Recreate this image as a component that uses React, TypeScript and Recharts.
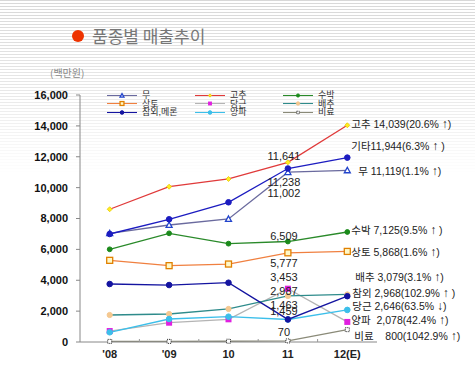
import React from 'react';
import { LineChart, Line, XAxis, YAxis, Legend, LabelList } from 'recharts';

// 연도
const years = ["'08", "'09", '10', '11', '12(E)'];
const yTicks = [0, 2000, 4000, 6000, 8000, 10000, 12000, 14000, 16000];

// 품종별 매출 (백만원)
const mu = [7040, 7580, 7970, 11002, 11119];
const gochu = [8600, 10060, 10560, 11641, 14039];
const subak = [6005, 7040, 6370, 6509, 7125];
const sangto = [5290, 4945, 5050, 5777, 5868];
const dangeun = [710, 1250, 1470, 3453, 1300];
const baechu = [1750, 1815, 2140, 2987, 3079];
const chamoe = [3757, 3690, 3840, 1463, 2968];
const gita = [6996, 7950, 9050, 11238, 11944];
const yangpa = [628, 1490, 1640, 1459, 2078];
const biryo = [40, 40, 50, 70, 800];

// '11 값 라벨
const labels11: Record<string, string> = {
  gochu: '11,641', gita: '11,238', mu: '11,002', subak: '6,509', sangto: '5,777',
  dangeun: '3,453', baechu: '2,987', chamoe: '1,463', yangpa: '1,459', biryo: '70',
};

// 12(E) 라벨
const labels12: Record<string, string> = {
  gochu: '고추 14,039(20.6% ↑)',
  gita: '기타11,944(6.3% ↑ )',
  mu: '무 11,119(1.1% ↑)',
  subak: '수박 7,125(9.5% ↑ )',
  sangto: '상토 5,868(1.6% ↑)',
  baechu: '배추 3,079(3.1% ↑)',
  chamoe: '참외 2,968(102.9% ↑ )',
  dangeun: '당근 2,646(63.5% ↓)',
  yangpa: '양파  2,078(42.4% ↑)',
  biryo: '비료    800(1042.9% ↑)',
};

const data = years.map((year, i) => ({
  year,
  mu: mu[i], gochu: gochu[i], subak: subak[i], sangto: sangto[i], dangeun: dangeun[i],
  baechu: baechu[i], chamoe: chamoe[i], gita: gita[i], yangpa: yangpa[i], biryo: biryo[i],
}));

type Shape = 'triangle' | 'diamond' | 'circle' | 'square' | 'hollowSquare' | 'dotSquare';

interface SeriesStyle {
  key: string;
  name: string;
  line: string;
  shape: Shape;
  fill: string;
  stroke: string;
  size: number;
  legend: boolean;
  // label offsets: '11 (dy), '12 (dx, dy)
  dy11: number;
  dx12: number;
  dy12: number;
}

const series: SeriesStyle[] = [
  { key: 'biryo', name: '비료', line: '#8a8a78', shape: 'dotSquare', fill: '#fff', stroke: '#222', size: 4, legend: true, dy11: -9, dx12: 7, dy12: 6 },
  { key: 'dangeun', name: '당근', line: '#b4b4b4', shape: 'square', fill: '#e020e0', stroke: '#e020e0', size: 6, legend: true, dy11: -12, dx12: 5, dy12: -16 },
  { key: 'baechu', name: '배추', line: '#2e8b8b', shape: 'circle', fill: '#f5c890', stroke: '#f5c890', size: 2.6, legend: true, dy11: -5, dx12: 8, dy12: -17 },
  { key: 'yangpa', name: '양파', line: '#3cbfea', shape: 'circle', fill: '#3cbfea', stroke: '#3cbfea', size: 2.8, legend: true, dy11: -8, dx12: 4, dy12: 10 },
  { key: 'chamoe', name: '참외,메론', line: '#1414a0', shape: 'circle', fill: '#1414a0', stroke: '#1414a0', size: 2.8, legend: true, dy11: -14, dx12: 5, dy12: -3 },
  { key: 'sangto', name: '상토', line: '#f08040', shape: 'hollowSquare', fill: '#fff8c8', stroke: '#e08000', size: 6, legend: true, dy11: 10, dx12: 4, dy12: 1 },
  { key: 'subak', name: '수박', line: '#2a8a2a', shape: 'circle', fill: '#1a8a1a', stroke: '#1a8a1a', size: 2.4, legend: true, dy11: -6, dx12: 4, dy12: -2 },
  { key: 'mu', name: '무', line: '#6a6a9e', shape: 'triangle', fill: '#fff', stroke: '#2244cc', size: 6, legend: true, dy11: 21, dx12: 11, dy12: 1 },
  { key: 'gita', name: '기타', line: '#1c1cc0', shape: 'circle', fill: '#1c1cc0', stroke: '#1c1cc0', size: 2.8, legend: false, dy11: 13, dx12: 4, dy12: -12 },
  { key: 'gochu', name: '고추', line: '#e03a3a', shape: 'diamond', fill: '#ffee22', stroke: '#e8c800', size: 5, legend: true, dy11: -6, dx12: 4, dy12: -1 },
];

const legendOrder = ['mu', 'gochu', 'subak', 'sangto', 'dangeun', 'baechu', 'chamoe', 'yangpa', 'biryo'];

const FONT = '"Liberation Sans", "Noto Sans CJK KR", sans-serif';

const Marker = ({ cx, cy, s, k = 1 }: { cx: number; cy: number; s: SeriesStyle; k?: number }) => {
  const size = s.size * k;
  const h = size / 2;
  switch (s.shape) {
    case 'triangle':
      return <polygon points={`${cx},${cy - h} ${cx + h},${cy + h * 0.8} ${cx - h},${cy + h * 0.8}`} fill={s.fill} stroke={s.stroke} strokeWidth={1.3} />;
    case 'diamond':
      return <polygon points={`${cx},${cy - h} ${cx + h},${cy} ${cx},${cy + h} ${cx - h},${cy}`} fill={s.fill} stroke={s.stroke} strokeWidth={0.8} />;
    case 'circle':
      return <circle cx={cx} cy={cy} r={size} fill={s.fill} stroke={s.stroke} />;
    case 'square':
      return <rect x={cx - h} y={cy - h} width={size} height={size} fill={s.fill} />;
    case 'hollowSquare':
      return <rect x={cx - h} y={cy - h} width={size} height={size} fill={s.fill} stroke={s.stroke} strokeWidth={1.3} />;
    default:
      return <rect x={cx - h} y={cy - h} width={size} height={size} fill={s.fill} stroke={s.stroke} strokeWidth={1} strokeDasharray="1 1" />;
  }
};

const renderLegend = () => (
  <div style={{ display: 'grid', gridTemplateColumns: '88px 88px 90px', fontFamily: FONT, fontSize: 9, color: '#333' }}>
    {legendOrder.map((k) => {
      const s = series.find((e) => e.key === k)!;
      return (
        <div key={k} style={{ display: 'flex', alignItems: 'center', height: 8.5, lineHeight: '8.5px', whiteSpace: 'nowrap' }}>
          <svg width={30} height={7} style={{ overflow: 'visible' }}>
            <line x1={0} y1={3.5} x2={30} y2={3.5} stroke={s.line} strokeWidth={1.1} />
            <Marker cx={15} cy={3.5} s={s} k={0.65} />
          </svg>
          <span style={{ marginLeft: 5 }}>{s.name}</span>
        </div>
      );
    })}
  </div>
);

const XTick = (props: any) => {
  const { x, y, payload, index } = props;
  const axisY = y - 8;
  return (
    <g>
      {index < years.length - 1 && (
        <line x1={x + 29.7} y1={axisY - 3} x2={x + 29.7} y2={axisY} stroke="#999" />
      )}
      <text x={x} y={y} dy="0.71em" textAnchor="middle" fontFamily={FONT} fontSize={11} fontWeight="bold" fill="#222">
        {payload.value}
      </text>
    </g>
  );
};

const makeLabel = (s: SeriesStyle) => (props: any) => {
  const { x, y, index } = props;
  if (index === 3 && labels11[s.key]) {
    return (
      <text key={`l11-${s.key}`} x={x - 4} y={y + s.dy11} textAnchor="middle" dominantBaseline="central" fontFamily={FONT} fontSize={11} fill="#222">
        {labels11[s.key]}
      </text>
    );
  }
  if (index === 4 && labels12[s.key]) {
    const parts = labels12[s.key].split(/([↑↓])/);
    return (
      <text key={`l12-${s.key}`} x={x + s.dx12} y={y + s.dy12} dominantBaseline="central" fontFamily={FONT} fontSize={10.5} fill="#222" style={{ whiteSpace: 'pre' }}>
        {parts.map((p, i) =>
          p === '↑' || p === '↓' ? (
            <tspan key={i} fontWeight="bold" fontSize={12}>{p}</tspan>
          ) : (
            <tspan key={i}>{p}</tspan>
          )
        )}
      </text>
    );
  }
  return null;
};

export default function App() {
  return (
    <div style={{ position: 'absolute', left: 0, top: 0, width: 475, height: 374, background: '#fff', overflow: 'hidden', fontFamily: FONT }}>
      <div
        style={{
          position: 'absolute', left: 0, top: 0, width: 475, height: 180,
          background: 'repeating-linear-gradient(to bottom, #d8d8d8 0px, #d8d8d8 1px, #ffffff 1px, #ffffff 3px)',
          WebkitMaskImage: 'linear-gradient(to bottom, rgba(0,0,0,1) 0px, rgba(0,0,0,0.6) 90px, rgba(0,0,0,0) 175px)',
          maskImage: 'linear-gradient(to bottom, rgba(0,0,0,1) 0px, rgba(0,0,0,0.6) 90px, rgba(0,0,0,0) 175px)',
        }}
      />
      <div style={{ position: 'absolute', left: 72, top: 30, width: 12, height: 12, borderRadius: 6, background: '#ee3300' }} />
      <div style={{ position: 'absolute', left: 92, top: 24, fontSize: 17, color: '#777', fontFamily: '"Noto Sans CJK KR", sans-serif', lineHeight: '24px' }}>
        품종별 매출추이
      </div>
      <div style={{ position: 'absolute', left: 50, top: 66, fontSize: 10, color: '#888', fontFamily: '"Noto Sans CJK KR", sans-serif', lineHeight: '14px' }}>
        (백만원)
      </div>
      <div style={{ position: 'absolute', left: 0, top: 0 }}>
        <LineChart width={475} height={374} data={data} margin={{ top: 95, right: 98, bottom: 2, left: 0 }}>
          <XAxis
            dataKey="year"
            height={30}
            padding={{ left: 29.7, right: 29.7 }}
            axisLine={{ stroke: '#888' }}
            tickLine={false}
            tickSize={0}
            tickMargin={8}
            tick={<XTick />}
            interval={0}
          />
          <YAxis
            width={80}
            domain={[0, 16000]}
            ticks={yTicks}
            interval={0}
            tickFormatter={(v: number) => v.toLocaleString('en-US')}
            tick={{ fontSize: 11, fontWeight: 'bold', fill: '#111', fontFamily: FONT }}
            tickSize={4}
            tickMargin={8}
            axisLine={{ stroke: '#888' }}
            tickLine={{ stroke: '#888' }}
          />
          <Legend
            layout="horizontal"
            verticalAlign="middle"
            content={renderLegend}
            wrapperStyle={{ left: 107, top: 91, width: 270 }}
          />
          {series.map((s) => (
            <Line
              key={s.key}
              dataKey={s.key}
              name={s.name}
              stroke={s.line}
              strokeWidth={1.3}
              isAnimationActive={false}
              legendType={s.legend ? 'line' : 'none'}
              dot={(p: any) => <Marker key={`${s.key}-${p.index}`} cx={p.cx} cy={p.cy} s={s} />}
              activeDot={false}
            >
              <LabelList dataKey={s.key} content={makeLabel(s)} />
            </Line>
          ))}
        </LineChart>
      </div>
    </div>
  );
}
